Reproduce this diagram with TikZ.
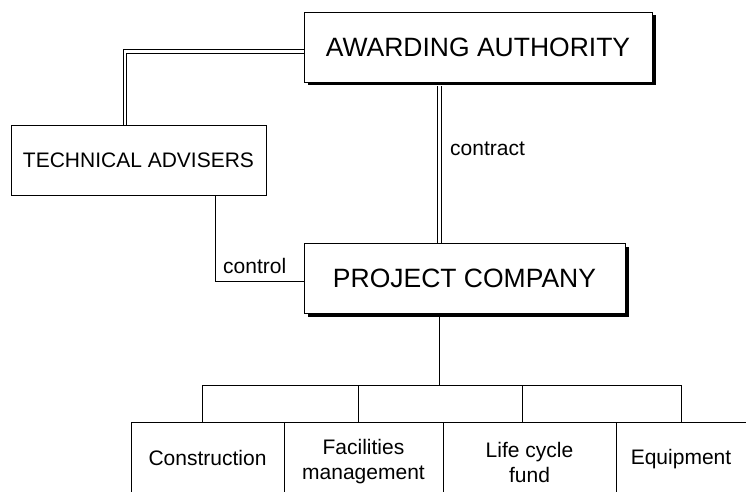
\documentclass[tikz,border=0pt]{standalone}
\usepackage{fontspec}
\setmainfont{Liberation Sans}
\usetikzlibrary{shadows}

\begin{document}
\begin{tikzpicture}[x=1pt,y=1pt,
    box/.style={draw, line width=0.8pt, inner sep=0pt},
    bigbox/.style={box, fill=white, minimum height=70pt, font=\fontsize{26.5}{30}\selectfont,
      drop shadow={shadow xshift=3.5pt, shadow yshift=-3.5pt, fill=black, opacity=1}},
    small/.style={font=\fontsize{21}{25}\selectfont, align=center, inner sep=0pt},
    dbl/.style={double, line width=0.9pt, double distance=2.6pt},
    link/.style={line width=0.8pt}]
  \useasboundingbox (0,0) rectangle (746,491);
  \clip (0,0) rectangle (746,491);
  \coordinate (spine) at (439.5,0);
  % main boxes
  \node[bigbox, minimum width=348pt] (authority) at (478,444) {AWARDING AUTHORITY};
  \node[box, minimum width=255pt, minimum height=70pt, font=\fontsize{21}{25}\selectfont] (advisers) at (138.5,331) {TECHNICAL ADVISERS};
  \node[bigbox, minimum width=321pt] (company) at (464.5,213) {PROJECT COMPANY};
  % upper row of sub-boxes
  \node[box, anchor=north west, minimum width=156pt, minimum height=37pt] (up1) at (202,106) {};
  \node[box, anchor=north west, minimum width=164pt, minimum height=37pt] (up2) at (358,106) {};
  \node[box, anchor=north west, minimum width=159pt, minimum height=37pt] (up3) at (522,106) {};
  % lower row, cut by the page edge
  \node[box, anchor=north west, minimum width=153pt, minimum height=100pt] (low1) at (131,69) {};
  \node[box, anchor=north west, minimum width=159pt, minimum height=100pt] (low2) at (284,69) {};
  \node[box, anchor=north west, minimum width=173pt, minimum height=100pt] (low3) at (443,69) {};
  \node[box, anchor=north west, minimum width=140pt, minimum height=100pt] (low4) at (616,69) {};
  \node[small, anchor=base] (construction) at (207.5,26) {Construction};
  \node[small] (facilities) at (363.5,29) {Facilities\\management};
  \node[small] (lifecycle) at (529.5,29) {Life cycle\\fund};
  \node[small, anchor=base] (equipment) at (681,27) {Equipment};
  % links
  \draw[dbl] ([yshift=-4.5pt]authority.west) -| ([xshift=-13.5pt]advisers.north);
  \draw[dbl] (authority.south -| spine) ++(0,-3.5) -- (company.north -| spine);
  \draw[link] ([xshift=76.5pt]advisers.south) |- ([yshift=-3pt]company.west);
  \draw[link] (company.south -| spine) ++(0,-3.5) -- (up2.north -| spine);
  \node[small, anchor=base west] (contractlbl) at (450,336) {contract};
  \node[small, anchor=base west] (controllbl) at (223,218) {control};
\end{tikzpicture}
\end{document}
